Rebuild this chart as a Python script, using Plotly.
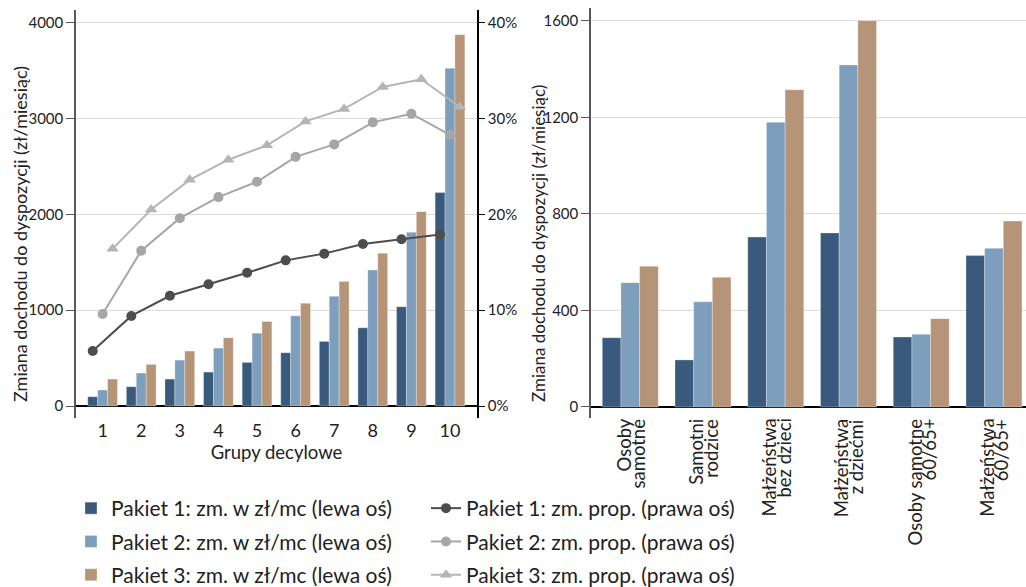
import plotly.graph_objects as go

# ---------------- data ----------------
deciles = ["1", "2", "3", "4", "5", "6", "7", "8", "9", "10"]
p1_zl = [97, 201, 281, 354, 455, 556, 674, 816, 1035, 2229]
p2_zl = [167, 344, 479, 604, 760, 941, 1146, 1420, 1813, 3524]
p3_zl = [281, 434, 573, 712, 882, 1073, 1299, 1594, 2028, 3875]
p1_pct = [0.0574, 0.094, 0.115, 0.127, 0.139, 0.152, 0.159, 0.169, 0.174, 0.179]
p2_pct = [0.096, 0.162, 0.196, 0.218, 0.234, 0.260, 0.273, 0.296, 0.305, 0.283]
p3_pct = [0.164, 0.205, 0.236, 0.257, 0.272, 0.297, 0.310, 0.333, 0.341, 0.312]

household_types = ["Osoby<br>samotne", "Samotni<br>rodzice", "Małżeństwa<br>bez dzieci",
                   "Małżeństwa<br>z dziećmi", "Osoby samotne<br>60/65+", "Małżeństwa<br>60/65+"]
hh_p1 = [287, 195, 704, 721, 290, 627]
hh_p2 = [515, 436, 1179, 1417, 301, 657]
hh_p3 = [583, 537, 1314, 1600, 366, 770]

left_ticks = [0, 1000, 2000, 3000, 4000]
pct_ticks = [0, 0.1, 0.2, 0.3, 0.4]
right_ticks = [0, 400, 800, 1200, 1600]

bar_names = ["Pakiet 1: zm. w zł/mc (lewa oś)", "Pakiet 2: zm. w zł/mc (lewa oś)",
             "Pakiet 3: zm. w zł/mc (lewa oś)"]
line_names = ["Pakiet 1: zm. prop. (prawa oś)", "Pakiet 2: zm. prop. (prawa oś)",
              "Pakiet 3: zm. prop. (prawa oś)"]

# ---------------- style ----------------
FONT = "Lato"
TXT = "#222222"
bar_colors = ["#3A5A7D", "#7D9EBD", "#B59478"]
line_colors = ["#4D4D4D", "#A6A6A6", "#B5B5B5"]
symbols = ["circle", "circle", "triangle-up"]
msizes = [10, 10, 11]
W, H = 1026, 587


def px_x(p):
    return p / W


def px_y(p):
    return 1 - p / H


fig = go.Figure()

# left chart bars
for i, (vals, name) in enumerate(zip([p1_zl, p2_zl, p3_zl], bar_names)):
    fig.add_trace(go.Bar(
        x=deciles, y=vals, name=name, marker_color=bar_colors[i],
        marker_line=dict(color="rgba(255,255,255,0.6)", width=0.5),
        offsetgroup=str(i), xaxis="x", yaxis="y", legend="legend",
        legendgroup="b%d" % i))

# left chart lines (right axis)
for i, (vals, name) in enumerate(zip([p1_pct, p2_pct, p3_pct], line_names)):
    fig.add_trace(go.Scatter(
        x=deciles, y=vals, name=name, mode="lines+markers",
        line=dict(color=line_colors[i], width=2),
        marker=dict(symbol=symbols[i], size=msizes[i], color=line_colors[i]),
        offsetgroup=str(i), xaxis="x", yaxis="y2", legend="legend2",
        legendgroup="l%d" % i))

# right chart bars
for i, vals in enumerate([hh_p1, hh_p2, hh_p3]):
    fig.add_trace(go.Bar(
        x=household_types, y=vals, name=bar_names[i], marker_color=bar_colors[i],
        marker_line=dict(color="rgba(255,255,255,0.6)", width=0.5),
        offsetgroup=str(i), xaxis="x2", yaxis="y3", showlegend=False))

axis_font = dict(family=FONT, size=15, color=TXT)

annotations = [
    dict(text="Zmiana dochodu do dyspozycji (zł/miesiąc)", textangle=-90,
         x=px_x(20), y=px_y(234), xref="paper", yref="paper",
         xanchor="center", yanchor="middle", showarrow=False,
         font=dict(family=FONT, size=18, color=TXT)),
    dict(text="Zmiana dochodu do dyspozycji (zł/miesiąc)", textangle=-90,
         x=px_x(538), y=px_y(244), xref="paper", yref="paper",
         xanchor="center", yanchor="middle", showarrow=False,
         font=dict(family=FONT, size=17, color=TXT)),
]

# category labels of the right chart (rotated, lines aligned at the top)
LINE_STEP = 14.5
for cat in household_types:
    parts = cat.split("<br>")
    n = len(parts)
    for j, part in enumerate(parts):
        annotations.append(dict(
            text=part, textangle=-90, x=cat, xref="x2",
            y=px_y(418), yref="paper", xanchor="center", yanchor="top",
            xshift=(j - (n - 1) / 2) * LINE_STEP, showarrow=False,
            borderpad=0, font=dict(family=FONT, size=18.5, color=TXT)))

fig.update_layout(
    width=W, height=H,
    margin=dict(l=0, r=0, t=0, b=0, autoexpand=False),
    paper_bgcolor="white", plot_bgcolor="white",
    font=dict(family=FONT, color=TXT),
    hovermode=False,
    barmode="group", bargap=0.23, bargroupgap=0,
    scattermode="group", scattergap=0.23,
    xaxis=dict(
        domain=[px_x(76), px_x(477)], anchor="y", type="category",
        range=[-0.69, 9.70], showgrid=False, showline=False, ticks="",
        tickfont=dict(family=FONT, size=18, color=TXT),
        title=dict(text="Grupy decylowe", font=dict(family=FONT, size=18.5, color=TXT),
                   standoff=2),
        automargin=False, fixedrange=True),
    yaxis=dict(
        domain=[px_y(418), px_y(10)], anchor="x",
        range=[-125.2, 4132.5], tickvals=left_ticks, ticktext=[str(v) for v in left_ticks],
        showgrid=True, gridcolor="#DCDCDC", gridwidth=1,
        zeroline=True, zerolinecolor="#000000", zerolinewidth=2,
        showline=True, linecolor="#595959", linewidth=1.5,
        ticks="outside", ticklen=8, tickcolor="#595959", tickwidth=1,
        tickfont=axis_font, automargin=False),
    yaxis2=dict(
        domain=[px_y(418), px_y(10)], anchor="x", overlaying="y", side="right",
        range=[-0.01252, 0.41325], tickvals=pct_ticks, tickformat=".0%",
        showgrid=False, zeroline=False,
        showline=True, linecolor="#000000", linewidth=1.5,
        ticks="outside", ticklen=6, tickcolor="#000000", tickwidth=1,
        tickfont=axis_font, automargin=False),
    xaxis2=dict(
        domain=[px_x(591), 1.0], anchor="y3", type="category",
        range=[-0.54, 5.44], showgrid=False, showline=False, ticks="",
        showticklabels=False, automargin=False),
    yaxis3=dict(
        domain=[px_y(418), px_y(8)], anchor="x2",
        range=[-45.6, 1652.6], tickvals=right_ticks,
        showgrid=True, gridcolor="#DCDCDC", gridwidth=1,
        zeroline=True, zerolinecolor="#000000", zerolinewidth=2,
        showline=True, linecolor="#595959", linewidth=1.5,
        ticks="outside", ticklen=8, tickcolor="#595959", tickwidth=1,
        tickfont=axis_font, automargin=False),
    legend=dict(
        x=px_x(71), y=px_y(488), xanchor="left", yanchor="top",
        orientation="v", font=dict(family=FONT, size=21, color=TXT),
        bgcolor="rgba(0,0,0,0)", tracegroupgap=3, traceorder="grouped",
        itemclick=False),
    legend2=dict(
        x=px_x(426), y=px_y(488), xanchor="left", yanchor="top",
        orientation="v", font=dict(family=FONT, size=21, color=TXT),
        bgcolor="rgba(0,0,0,0)", tracegroupgap=3, traceorder="grouped",
        itemclick=False),
    annotations=annotations,
)

post = """
document.documentElement.style.margin='0';
document.documentElement.style.padding='0';
document.documentElement.style.overflow='hidden';
document.body.style.margin='0';
document.body.style.padding='0';
document.body.style.overflow='hidden';
var gd = document.getElementById('{plot_id}');
if (gd && gd.parentElement) {
  gd.parentElement.style.height='587px';
  gd.parentElement.style.overflow='hidden';
}
"""

fig.write_html("out.html", config={"displayModeBar": False}, post_script=post)
